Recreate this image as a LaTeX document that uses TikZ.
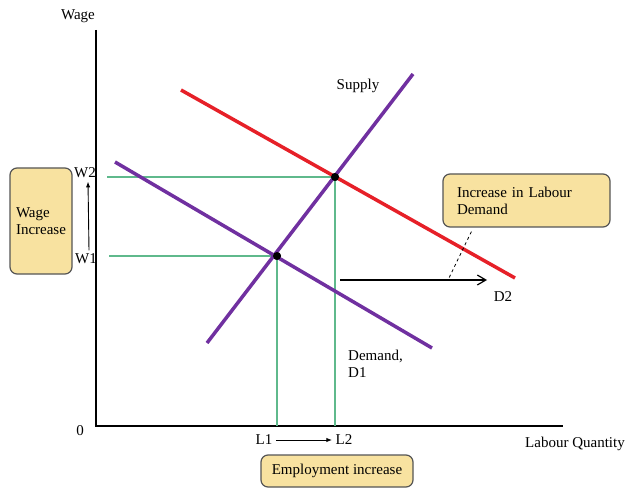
\documentclass[tikz,border=0pt]{standalone}
\usepackage{fontspec}
\setmainfont{Liberation Serif}
\usetikzlibrary{arrows.meta,calc}

\definecolor{supplypurple}{RGB}{112,48,160}
\definecolor{demandred}{RGB}{230,32,40}
\definecolor{guidegreen}{RGB}{95,185,140}
\definecolor{notefill}{RGB}{248,226,160}
\definecolor{noteline}{RGB}{85,85,85}

\begin{document}
\begin{tikzpicture}[x=1pt, y=-1pt, every node/.style={font=\fontsize{15}{17}\selectfont}, >={Latex[length=2mm]},
	curve/.style={line width=3.5pt},
	guide/.style={guidegreen, line width=1.2pt},
	dot/.style={circle, fill=black, inner sep=0pt, minimum size=8pt},
	note/.style={draw=noteline, fill=notefill, rounded corners=7pt, line width=1.2pt}]
	\useasboundingbox (0,0) rectangle (629,489);
	\coordinate (Ytop) at (96,30);
	\coordinate (O) at (96,426);
	\coordinate (Xend) at (563,426);
	\draw[line width=2.6pt] (Ytop) -- (O) -- (Xend);
	\coordinate (S1) at (207,343);
	\coordinate (S2) at (413,74);
	\coordinate (Da) at (115,162);
	\coordinate (Db) at (432,348);
	\coordinate (Dc) at (181,90);
	\coordinate (Dd) at (515,278);
	\node[dot] (E1) at (277,256) {};
	\node[dot] (E2) at (335,177) {};
	\draw[guide] (E2.center) -- ($(E2 -| O)+(11,0)$);
	\draw[guide] (E1.center) -- ($(E1 -| O)+(13,0)$);
	\draw[guide] (E2.center) -- (E2 |- O);
	\draw[guide] (E1.center) -- (E1 |- O);
	\draw[curve, demandred] (Dc) -- (Dd);
	\draw[curve, supplypurple] (Da) -- (Db);
	\draw[curve, supplypurple] (S1) -- (S2);
	\node[dot] at (E1) {};
	\node[dot] at (E2) {};
	\node (wage) at (78,16) {Wage};
	\node (zero) at (80,431) {0};
	\node (W2) at (85,173) {W2};
	\node (W1) at (86,259) {W1};
	\draw[->, line width=0.9pt] ([xshift=3pt]W1.north) -- ([xshift=3pt]W2.south);
	\node (supply) at (358,86) {Supply};
	\node (D2) at (503,297) {D2};
	\node[anchor=north west, align=left, inner sep=0pt] (D1) at (348,350) {Demand,\\D1};
	\node (L1) at (264,440) {L1};
	\node (L2) at (344,440) {L2};
	\draw[->, line width=0.9pt] (L1.east) -- (L2.west);
	\node (quantity) at (575,444) {Labour Quantity};
	\node[note, minimum width=62pt, minimum height=106pt, align=left, inner sep=0pt] (wagebox) at (41,221) {Wage\\Increase};
	\node[note, text width=139pt, inner xsep=14pt, minimum height=53pt, align=left] (shiftbox) at (526.5,200.5) {Increase in Labour\\Demand};
	\node[note, minimum width=152pt, minimum height=32pt, inner sep=0pt] (jobsbox) at (337,471) {Employment increase};
	\coordinate (a1) at (340,280);
	\coordinate (a2) at (487,280);
	\draw[-{Straight Barb[length=3mm, width=3.5mm]}, line width=1.2pt] (a1) -- (a2);
	\coordinate (c2) at (448,280);
	\draw[dashed, line width=0.8pt] ([xshift=29pt, yshift=-4pt]shiftbox.south west) -- (c2);
\end{tikzpicture}
\end{document}
